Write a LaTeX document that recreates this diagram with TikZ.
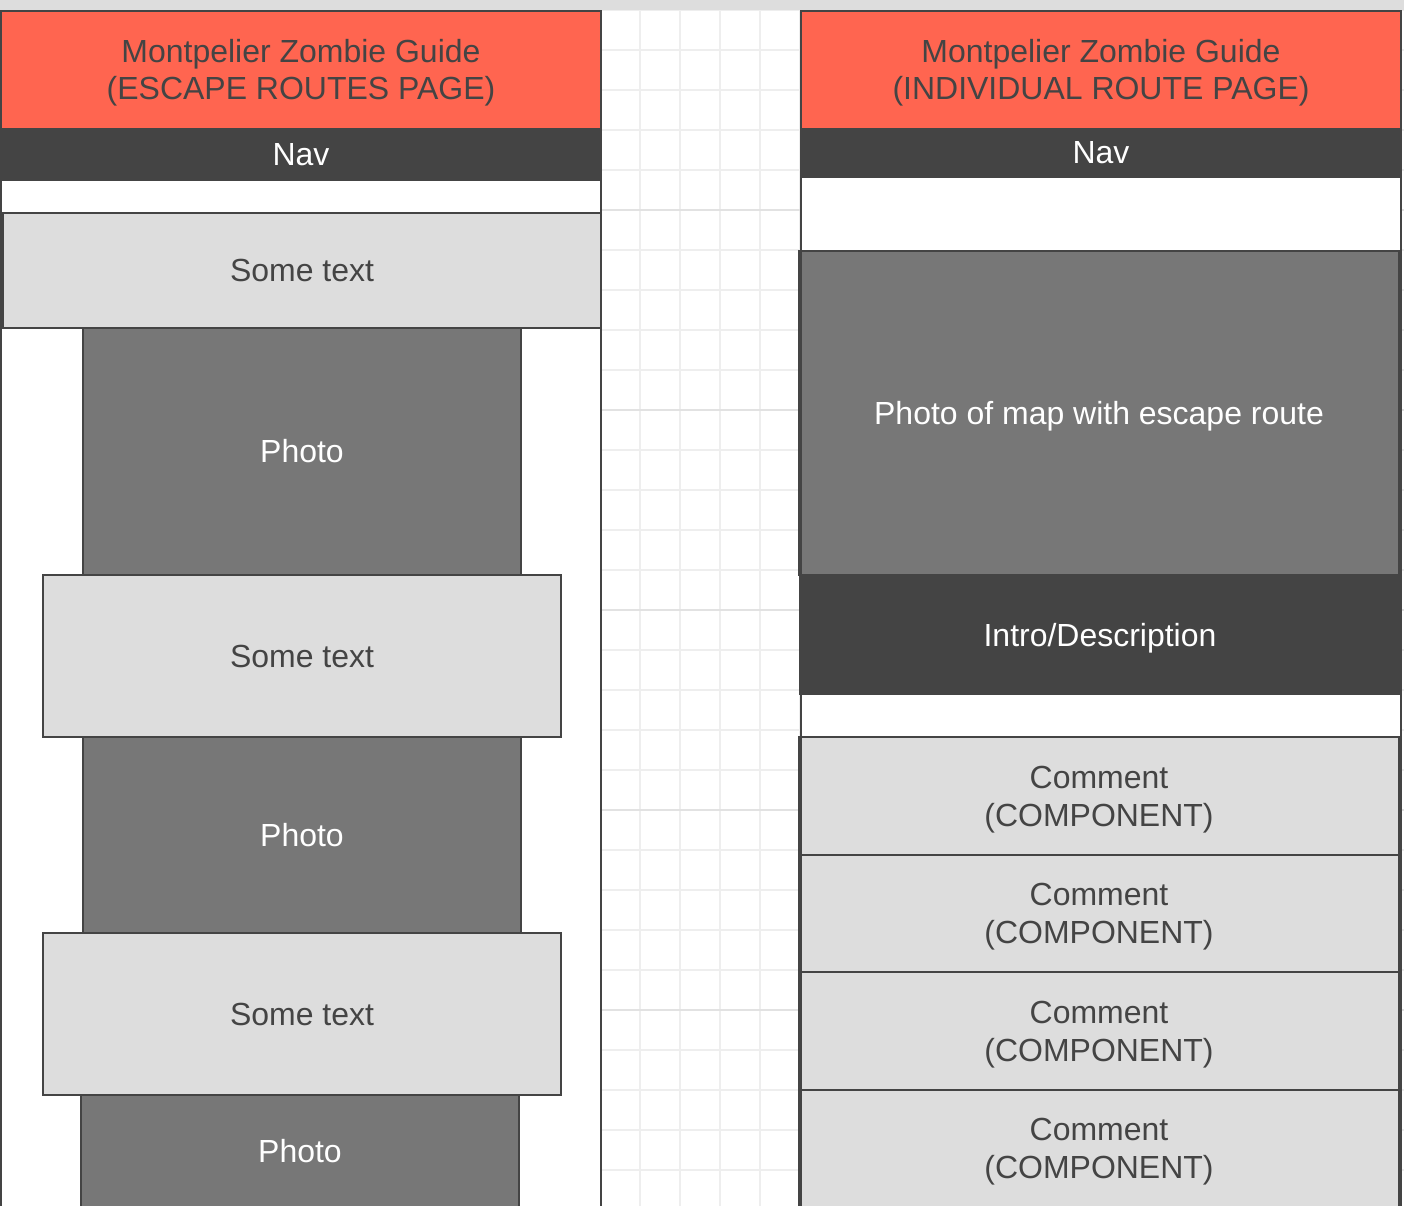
\documentclass[tikz,border=0pt]{standalone}
\usepackage{fontspec}
\setmainfont{Liberation Sans}

\definecolor{zred}{HTML}{FF6550}
\definecolor{zdark}{HTML}{444444}
\definecolor{zphoto}{HTML}{777777}
\definecolor{zlight}{HTML}{DDDDDD}
\definecolor{zgrid}{HTML}{EEEEEE}
\definecolor{zgridmaj}{HTML}{E2E2E2}

\tikzset{
  wf/.style={inner sep=0pt, outer sep=0pt, align=center, font=\fontsize{18.2}{21.5}\selectfont},
  nodepth/.style={text depth=0pt},
  headbar/.style={wf, fill=zred, text=zdark},
  navbar/.style={wf, fill=zdark, text=white},
  textbox/.style={wf, fill=zlight, draw=zdark, line width=1.1pt, text=zdark},
  photobox/.style={wf, fill=zphoto, draw=zdark, line width=1.1pt, text=white},
  pageframe/.style={draw=zdark, line width=1.1pt, inner sep=0pt, outer sep=0pt},
  gridline/.style={zgrid, line width=0.6pt},
}

\begin{document}
\begin{tikzpicture}[x=0.02cm,y=-0.02cm]

\useasboundingbox (0,0) rectangle (1404,1206);
\clip (0,0) rectangle (1404,1206);

% background grid
\foreach \i in {0,...,35}
  \draw[gridline] (40*\i,10) -- (40*\i,1206);
\foreach \j in {0,...,30}
  \draw[gridline] (0,10+40*\j) -- (1404,10+40*\j);
\foreach \j in {1,...,5}
  \draw[gridline, zgridmaj] (0,10+200*\j) -- (1404,10+200*\j);
\fill[zlight] (0,0) rectangle (1404,10);

% pages
\fill[white] (1,11) rectangle (601,1230);
\fill[white] (801,11) rectangle (1401,1230);

% escape routes page
\node (headL) at (301,69.5)[headbar, nodepth, minimum width=12cm, minimum height=2.34cm]{Montpelier Zombie Guide\\(ESCAPE ROUTES PAGE)};
\node (navL) at (301,154.5)[navbar, minimum width=12cm, minimum height=1.06cm]{Nav};

\node (text1) at (302,270.5)[textbox, minimum width=11.96cm, minimum height=2.3cm]{Some text};
\node (photo1) at (302,451.5)[photobox, minimum width=8.76cm, minimum height=4.94cm]{Photo};
\node (text2) at (302,656)[textbox, minimum width=10.36cm, minimum height=3.24cm]{Some text};
\node (photo2) at (302,835)[photobox, minimum width=8.76cm, minimum height=3.92cm]{Photo};
\node (text3) at (302,1014)[textbox, minimum width=10.36cm, minimum height=3.24cm]{Some text};
\node (photo3) at (300,1151)[photobox, minimum width=8.76cm, minimum height=2.24cm]{Photo};

% individual route page
\node (headR) at (1101,69.5)[headbar, nodepth, minimum width=12cm, minimum height=2.34cm]{Montpelier Zombie Guide\\(INDIVIDUAL ROUTE PAGE)};
\node (navR) at (1101,153)[navbar, minimum width=12cm, minimum height=1cm]{Nav};

\node (map) at (1099,413)[photobox, nodepth, minimum width=12cm, minimum height=6.48cm]{Photo of map with escape route};
\node (intro) at (1100,635)[navbar, nodepth, minimum width=12.04cm, minimum height=2.4cm]{Intro/Description};

\foreach \c in {1,...,4}
{
\node (com\c) at (1099,796+117.5*\c-117.5)[textbox, nodepth, minimum width=12cm, minimum height=2.35cm]{Comment\\(COMPONENT)};
}

% page frames on top
\node (pageL) at (301,620)[pageframe, minimum width=12cm, minimum height=24.36cm]{};
\node (pageR) at (1101,620)[pageframe, minimum width=12cm, minimum height=24.36cm]{};

\end{tikzpicture}
\end{document}
